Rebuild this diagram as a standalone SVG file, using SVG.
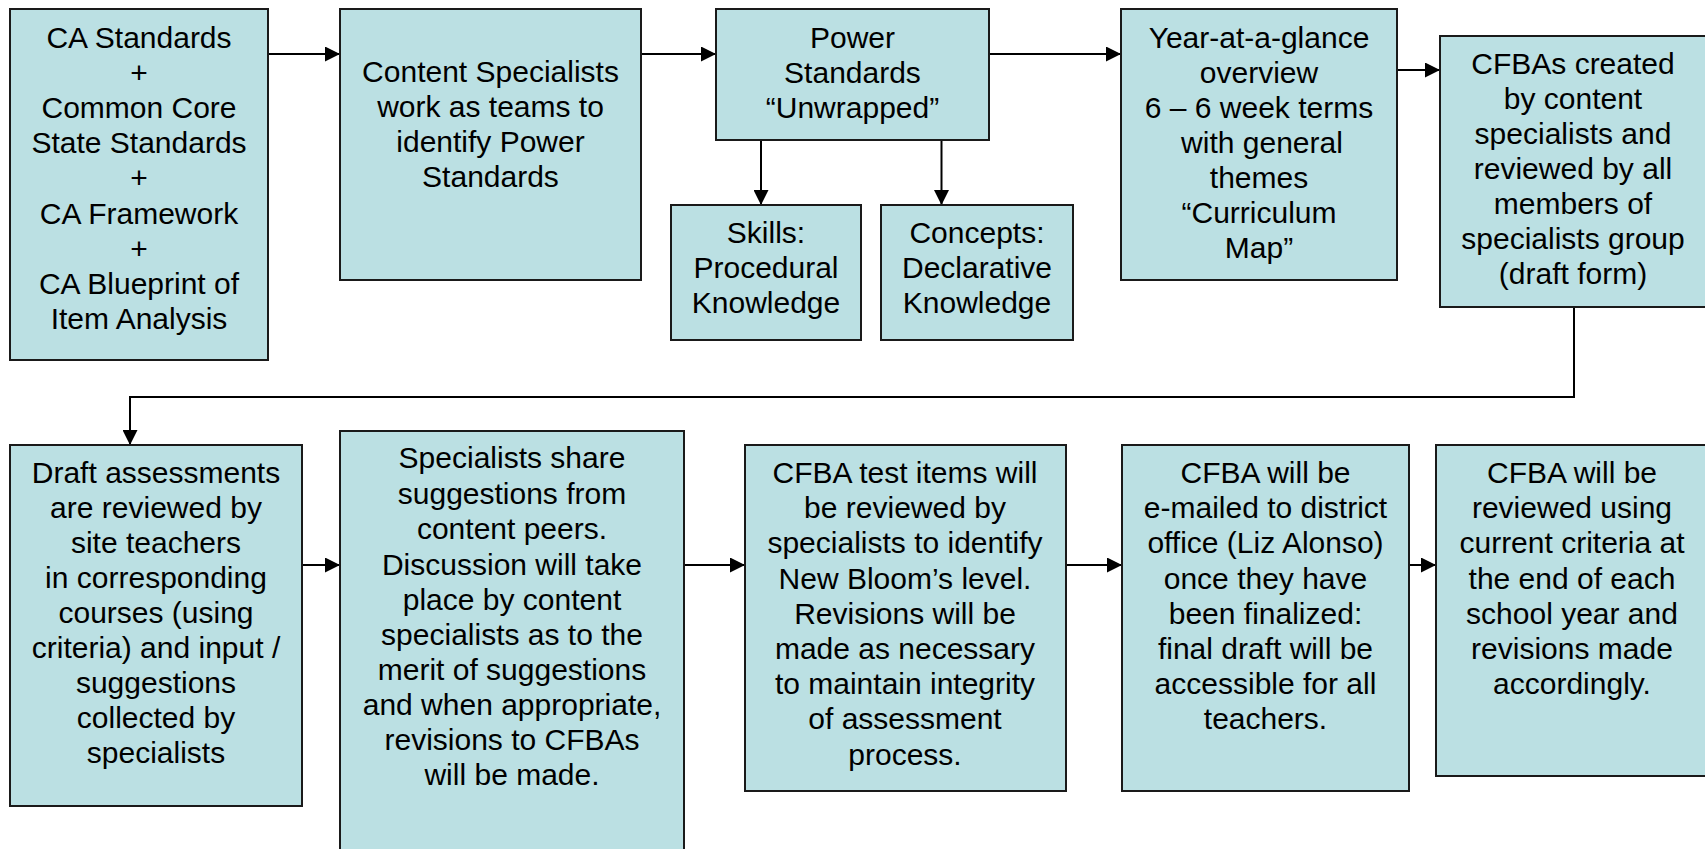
<svg xmlns="http://www.w3.org/2000/svg" width="1705" height="849" viewBox="0 0 1705 849">
<defs>
<style>
.box{fill:#BBE0E3;stroke:#1a1a1a;stroke-width:2}
.t{font-family:"Liberation Sans",Arial,sans-serif;font-size:30px;fill:#000;text-anchor:middle}
.c{fill:none;stroke:#000;stroke-width:2}
</style>
<marker id="ah" markerUnits="userSpaceOnUse" markerWidth="15" markerHeight="15" refX="15" refY="7.5" orient="auto">
<path d="M0,0 L15,7.5 L0,15 z" fill="#000"/>
</marker>
</defs>
<rect width="1705" height="849" fill="#fff"/>
<g id="connectors">
<line class="c" x1="265" y1="54" x2="340" y2="54" marker-end="url(#ah)"/>
<line class="c" x1="641" y1="54" x2="716" y2="54" marker-end="url(#ah)"/>
<line class="c" x1="761" y1="140" x2="761" y2="205" marker-end="url(#ah)"/>
<line class="c" x1="941.5" y1="140" x2="941.5" y2="205" marker-end="url(#ah)"/>
<line class="c" x1="989" y1="54" x2="1121" y2="54" marker-end="url(#ah)"/>
<line class="c" x1="1392" y1="70" x2="1440" y2="70" marker-end="url(#ah)"/>
<polyline class="c" points="1574,307 1574,397 130,397 130,445" marker-end="url(#ah)"/>
<line class="c" x1="302" y1="565" x2="340" y2="565" marker-end="url(#ah)"/>
<line class="c" x1="684" y1="565" x2="745" y2="565" marker-end="url(#ah)"/>
<line class="c" x1="1066" y1="565" x2="1122" y2="565" marker-end="url(#ah)"/>
<line class="c" x1="1396" y1="565" x2="1436" y2="565" marker-end="url(#ah)"/>
</g>
<g id="n1">
<rect class="box" x="10" y="9" width="258" height="351"/>
<text class="t"><tspan x="139" y="48">CA Standards</tspan><tspan x="139" y="83">+</tspan><tspan x="139" y="118">Common Core</tspan><tspan x="139" y="153">State Standards</tspan><tspan x="139" y="188">+</tspan><tspan x="139" y="224">CA Framework</tspan><tspan x="139" y="259">+</tspan><tspan x="139" y="294">CA Blueprint of</tspan><tspan x="139" y="329">Item Analysis</tspan></text>
</g>
<g id="n2">
<rect class="box" x="340" y="9" width="301" height="271"/>
<text class="t"><tspan x="490.5" y="82">Content Specialists</tspan><tspan x="490.5" y="117">work as teams to</tspan><tspan x="490.5" y="152">identify Power</tspan><tspan x="490.5" y="187">Standards</tspan></text>
</g>
<g id="n3">
<rect class="box" x="716" y="9" width="273" height="131"/>
<text class="t"><tspan x="852.5" y="48">Power</tspan><tspan x="852.5" y="83">Standards</tspan><tspan x="852.5" y="118">“Unwrapped”</tspan></text>
</g>
<g id="n4">
<rect class="box" x="671" y="205" width="190" height="135"/>
<text class="t"><tspan x="766" y="243">Skills:</tspan><tspan x="766" y="278">Procedural</tspan><tspan x="766" y="313">Knowledge</tspan></text>
</g>
<g id="n5">
<rect class="box" x="881" y="205" width="192" height="135"/>
<text class="t"><tspan x="977" y="243">Concepts:</tspan><tspan x="977" y="278">Declarative</tspan><tspan x="977" y="313">Knowledge</tspan></text>
</g>
<g id="n6">
<rect class="box" x="1121" y="9" width="276" height="271"/>
<text class="t"><tspan x="1259" y="48">Year-at-a-glance</tspan><tspan x="1259" y="83">overview</tspan><tspan x="1259" y="118">6 – 6 week terms</tspan><tspan x="1262" y="153">with general</tspan><tspan x="1259" y="188">themes</tspan><tspan x="1259" y="223">“Curriculum</tspan><tspan x="1259" y="258">Map”</tspan></text>
</g>
<g id="n7">
<rect class="box" x="1440" y="36" width="280" height="271"/>
<text class="t"><tspan x="1573" y="74">CFBAs created</tspan><tspan x="1573" y="109">by content</tspan><tspan x="1573" y="144">specialists and</tspan><tspan x="1573" y="179">reviewed by all</tspan><tspan x="1573" y="214">members of</tspan><tspan x="1573" y="249">specialists group</tspan><tspan x="1573" y="284">(draft form)</tspan></text>
</g>
<g id="n8">
<rect class="box" x="10" y="445" width="292" height="361"/>
<text class="t"><tspan x="156" y="483">Draft assessments</tspan><tspan x="156" y="518">are reviewed by</tspan><tspan x="156" y="553">site teachers</tspan><tspan x="156" y="588">in corresponding</tspan><tspan x="156" y="623">courses (using</tspan><tspan x="156" y="658">criteria) and input /</tspan><tspan x="156" y="693">suggestions</tspan><tspan x="156" y="728">collected by</tspan><tspan x="156" y="763">specialists</tspan></text>
</g>
<g id="n9">
<rect class="box" x="340" y="431" width="344" height="430"/>
<text class="t"><tspan x="512" y="468">Specialists share</tspan><tspan x="512" y="504">suggestions from</tspan><tspan x="512" y="539">content peers.</tspan><tspan x="512" y="575">Discussion will take</tspan><tspan x="512" y="610">place by content</tspan><tspan x="512" y="645">specialists as to the</tspan><tspan x="512" y="680">merit of suggestions</tspan><tspan x="512" y="715">and when appropriate,</tspan><tspan x="512" y="750">revisions to CFBAs</tspan><tspan x="512" y="785">will be made.</tspan></text>
</g>
<g id="n10">
<rect class="box" x="745" y="445" width="321" height="346"/>
<text class="t"><tspan x="905" y="483">CFBA test items will</tspan><tspan x="905" y="518">be reviewed by</tspan><tspan x="905" y="553">specialists to identify</tspan><tspan x="905" y="589">New Bloom’s level.</tspan><tspan x="905" y="624">Revisions will be</tspan><tspan x="905" y="659">made as necessary</tspan><tspan x="905" y="694">to maintain integrity</tspan><tspan x="905" y="729">of assessment</tspan><tspan x="905" y="765">process.</tspan></text>
</g>
<g id="n11">
<rect class="box" x="1122" y="445" width="287" height="346"/>
<text class="t"><tspan x="1265.5" y="483">CFBA will be</tspan><tspan x="1265.5" y="518">e-mailed to district</tspan><tspan x="1265.5" y="553">office (Liz Alonso)</tspan><tspan x="1265.5" y="589">once they have</tspan><tspan x="1265.5" y="624">been finalized:</tspan><tspan x="1265.5" y="659">final draft will be</tspan><tspan x="1265.5" y="694">accessible for all</tspan><tspan x="1265.5" y="729">teachers.</tspan></text>
</g>
<g id="n12">
<rect class="box" x="1436" y="445" width="280" height="331"/>
<text class="t"><tspan x="1572" y="483">CFBA will be</tspan><tspan x="1572" y="518">reviewed using</tspan><tspan x="1572" y="553">current criteria at</tspan><tspan x="1572" y="589">the end of each</tspan><tspan x="1572" y="624">school year and</tspan><tspan x="1572" y="659">revisions made</tspan><tspan x="1572" y="694">accordingly.</tspan></text>
</g>
</svg>
